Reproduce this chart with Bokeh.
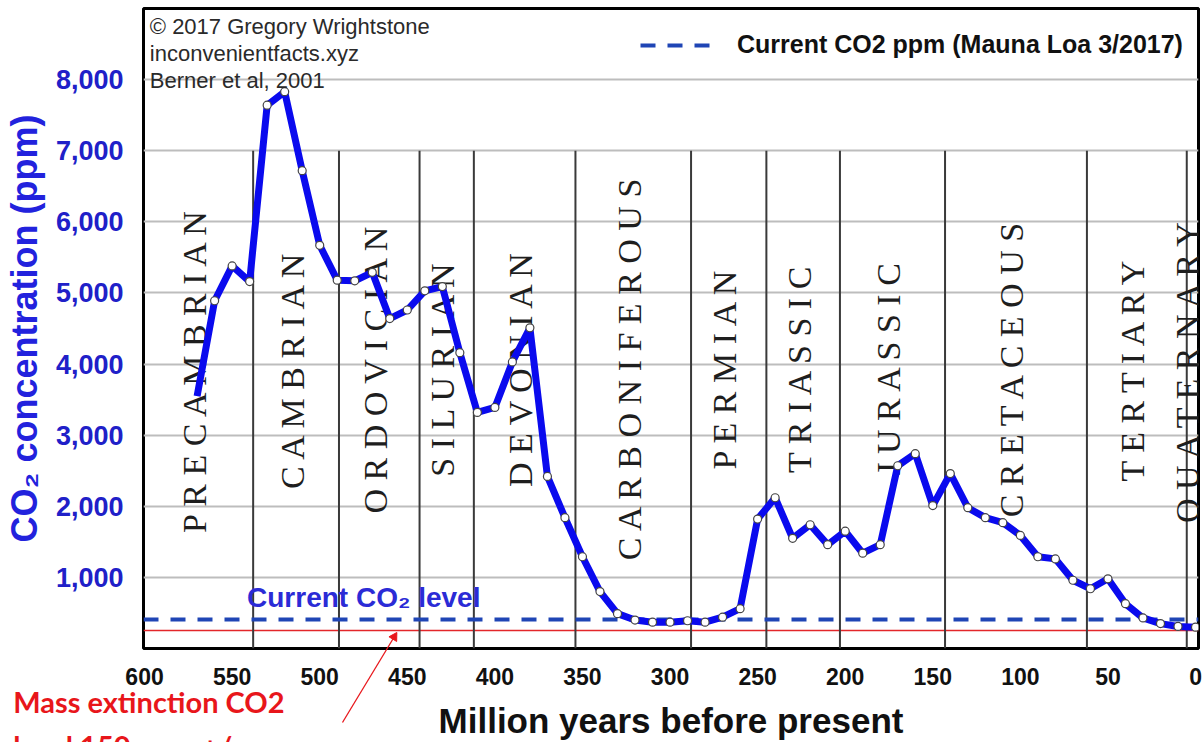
import numpy as np
from bokeh.plotting import figure
from bokeh.models import (Range1d, FixedTicker, NumeralTickFormatter, Label,
                          Legend, LegendItem, ColumnDataSource)
from bokeh.core.properties import value
from bokeh.embed import file_html
from bokeh.resources import INLINE

# ---------------- data ----------------
ages = [570, 560, 550, 540, 530, 520, 510, 500, 490, 480, 470, 460, 450, 440, 430, 420,
        410, 400, 390, 380, 370, 360, 350, 340, 330, 320, 310, 300, 290, 280, 270, 260,
        250, 240, 230, 220, 210, 200, 190, 180, 170, 160, 150, 140, 130, 120, 110, 100,
        90, 80, 70, 60, 50, 40, 30, 20, 10, 0]
co2 = [3550, 4890, 5380, 5160, 7640, 7830, 6720, 5670, 5180, 5170, 5290, 4640, 4760, 5030, 5090, 4160,
       3320, 3390, 4030, 4510, 2420, 1840, 1290, 800, 490, 400, 370, 370, 390, 370, 440, 560,
       1820, 2120, 1550, 1740, 1460, 1650, 1340, 1460, 2570, 2740, 2010, 2460, 1980, 1840, 1770, 1590,
       1290, 1260, 960, 840, 980, 630, 430, 350, 310, 300]

current_co2 = 407          # Mauna Loa 3/2017
extinction_co2 = 250       # red reference line

period_names = ["PRECAMBRIAN", "CAMBRIAN", "ORDOVICIAN", "SILURIAN", "DEVONIAN",
                "CARBONIFEROUS", "PERMIAN", "TRIASSIC", "JURASSIC", "CRETACEOUS",
                "TERTIARY", "QUATERNARY"]
period_bounds = [600, 538, 489, 443, 412, 354, 288, 245, 203, 143, 62, 5, 0]

x_ticks = [600, 550, 500, 450, 400, 350, 300, 250, 200, 150, 100, 50, 0]
y_ticks = [1000, 2000, 3000, 4000, 5000, 6000, 7000, 8000]

X_START, X_END = 600.6, -1.7
Y_START, Y_END = 0, 9000

# ---------------- figure ----------------
p = figure(width=1202, height=742, output_backend="svg", toolbar_location=None,
           x_range=Range1d(X_START, X_END), y_range=Range1d(Y_START, Y_END),
           min_border_left=138, min_border_right=4, min_border_top=8, min_border_bottom=94,
           background_fill_color="white", border_fill_color="white")

p.outline_line_color = "black"
p.outline_line_width = 3
p.xgrid.visible = False
p.ygrid.ticker = FixedTicker(ticks=y_ticks)
p.ygrid.grid_line_color = "#bdbdbd"
p.ygrid.grid_line_width = 2

# axes
xa = p.xaxis[0]
xa.ticker = FixedTicker(ticks=x_ticks)
xa.axis_line_color = None
xa.major_tick_line_color = None
xa.minor_tick_line_color = None
xa.major_label_standoff = 13
xa.major_label_text_font = "Liberation Sans"
xa.major_label_text_font_size = "23px"
xa.major_label_text_font_style = "bold"
xa.major_label_text_color = "#111111"
xa.axis_label = "Million years before present"
xa.axis_label_text_font = "Liberation Sans"
xa.axis_label_text_font_size = "35px"
xa.axis_label_text_font_style = "bold"
xa.axis_label_text_color = "#111111"
xa.axis_label_standoff = 13

ya = p.yaxis[0]
ya.ticker = FixedTicker(ticks=y_ticks)
ya.formatter = NumeralTickFormatter(format="0,0")
ya.axis_line_color = None
ya.major_tick_line_color = None
ya.minor_tick_line_color = None
ya.major_label_standoff = 14
ya.major_label_text_font = "Liberation Sans"
ya.major_label_text_font_size = "27px"
ya.major_label_text_font_style = "bold"
ya.major_label_text_color = "#2020c8"
ya.axis_label = "CO\u2082 concentration (ppm)"
ya.axis_label_text_font = "Liberation Sans"
ya.axis_label_text_font_size = "36px"
ya.axis_label_text_font_style = "bold"
ya.axis_label_text_color = "#2222dd"
ya.axis_label_standoff = 8

# red reference line
p.hspan(y=[extinction_co2], line_color="#e3262a", line_width=1.6)

# period boundary lines
inner_bounds = period_bounds[1:-1]
p.segment(x0=inner_bounds, y0=0, x1=inner_bounds, y1=7000, line_color="#3a3a3a", line_width=2)

# period labels (letter spaced, vertical), centred in each period
mids = [(a + b) / 2 + 2.3 for a, b in zip(period_bounds[:-1], period_bounds[1:])]
lab_src = ColumnDataSource(dict(x=mids, text=[" ".join(n) for n in period_names]))
p.text(x="x", y=3950, text="text", source=lab_src, angle=np.pi / 2,
       text_align="center", text_baseline="middle",
       text_font=value("Liberation Serif"), text_font_size="34px", text_color="#1e1e1e")

# current CO2 dashed line
dash_color = "#1f45b5"
cur_r = p.line(x=[X_START, X_END], y=[current_co2, current_co2], line_color=dash_color,
               line_width=4, line_dash="15 12")

# CO2 curve
p.line(ages, co2, line_color="#0a0aee", line_width=7, line_join="round")
p.scatter(ages[1:], co2[1:], size=8, fill_color="white", line_color="#444444", line_width=1.2)

# legend
legend = Legend(items=[LegendItem(label="Current CO2 ppm (Mauna Loa 3/2017)", renderers=[cur_r])],
                location=(497, 589), margin=0, padding=0, spacing=0,
                glyph_width=75, glyph_height=28, label_height=28,
                label_standoff=22, label_text_font="Liberation Sans", label_text_font_size="25px",
                label_text_font_style="bold", label_text_color="#111111",
                border_line_color=None, background_fill_alpha=0)
p.add_layout(legend)

# annotations inside the frame
credit = ["\u00a9 2017 Gregory Wrightstone", "inconvenientfacts.xyz", "Berner et al, 2001"]
for txt, yy in zip(credit, [8747, 8367, 7988]):
    p.add_layout(Label(x=597.0, y=yy, text=txt, text_font="Liberation Sans",
                       text_font_size="22px", text_color="#2a2a2a", text_baseline="middle"))

p.add_layout(Label(x=541.5, y=717, text="Current CO\u2082 level", text_font="Liberation Sans",
                   text_font_size="28px", text_font_style="bold", text_color="#2b2bd6",
                   text_baseline="middle"))

# red note and arrow below the frame (glyphs at overlay level so they are not clipped)
red = "#e8161b"
p.text(x=[675.0, 675.0], y=[-745, -1371], text=["Mass extinction CO2", "level 150 ppm +/-"],
       text_font=value("Lato"), text_font_size="29px", text_font_style="bold",
       text_color=red, text_align="left", text_baseline="middle", level="overlay")
p.segment(x0=[487.0], y0=[-1041], x1=[456.3], y1=[211], line_color=red, line_width=1.3,
          level="overlay")
p.scatter(x=[457.5], y=[163], marker="triangle", size=9, angle=-0.546,
          fill_color=red, line_color=red, level="overlay")

open("out.html", "w").write(file_html(p, INLINE))
